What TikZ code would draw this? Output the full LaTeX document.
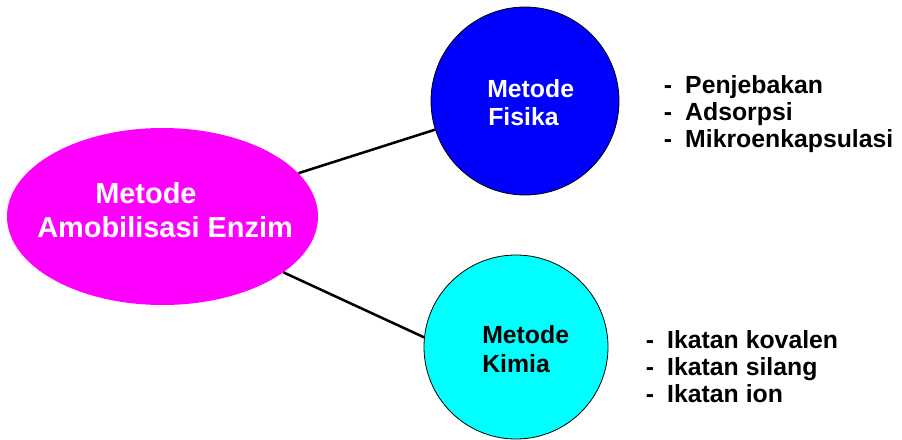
\documentclass[tikz,border=0pt]{standalone}
\usepackage{fontspec}
\setmainfont{Liberation Sans}
\usetikzlibrary{shapes.geometric}
\definecolor{hubpink}{HTML}{FF00FF}
\definecolor{fisblue}{HTML}{0000FF}
\definecolor{kimcyan}{HTML}{00FFFF}
\begin{document}
\begin{tikzpicture}[x=0.75pt,y=-0.75pt,
  hub/.style={ellipse, fill=hubpink, draw=none, inner sep=0pt,
    minimum width=233.25pt, minimum height=132.75pt},
  branch/.style={circle, draw=black, line width=0.6pt, inner sep=0pt},
  link/.style={draw=black, line width=1.9pt},
  bigtxt/.style={anchor=base west, inner sep=0pt, text=white,
    font=\fontsize{21.7}{25}\selectfont\bfseries},
  midtxt/.style={anchor=base west, inner sep=0pt,
    font=\fontsize{18.6}{22}\selectfont\bfseries},
  item/.style={anchor=base west, inner sep=0pt,
    font=\fontsize{18.6}{22}\selectfont\bfseries}]
\useasboundingbox (0,0) rectangle (902,439);

% main ellipse and the two method circles
\node[hub] (hub) at (162.5,216.5) {};
\node[branch, fill=fisblue, minimum size=141pt] (fisika) at (525,101) {};
\node[branch, fill=kimcyan, minimum size=138pt] (kimia) at (516,347) {};

% connectors
\draw[link] (hub) -- (fisika);
\draw[link] (hub) -- (kimia.174);

% labels inside the shapes
\node[bigtxt] (hubA) at (95,203) {Metode};
\node[bigtxt] (hubB) at (37,237) {Amobilisasi Enzim};
\node[midtxt, text=white] (fisA) at (487,97) {Metode};
\node[midtxt, text=white] (fisB) at (488,125) {Fisika};
\node[midtxt, text=black] (kimA) at (482,343) {Metode};
\node[midtxt, text=black] (kimB) at (482,372) {Kimia};

% physical methods
\node[item] (p1) at (663.5,93)  {\makebox[16.1pt][l]{-}Penjebakan};
\node[item] (p2) at (663.5,120) {\makebox[16.1pt][l]{-}Adsorpsi};
\node[item] (p3) at (663.5,147) {\makebox[16.1pt][l]{-}Mikroenkapsulasi};

% chemical methods
\node[item] (k1) at (645.5,348) {\makebox[16.1pt][l]{-}Ikatan kovalen};
\node[item] (k2) at (645.5,375) {\makebox[16.1pt][l]{-}Ikatan silang};
\node[item] (k3) at (645.5,402) {\makebox[16.1pt][l]{-}Ikatan ion};
\end{tikzpicture}
\end{document}
